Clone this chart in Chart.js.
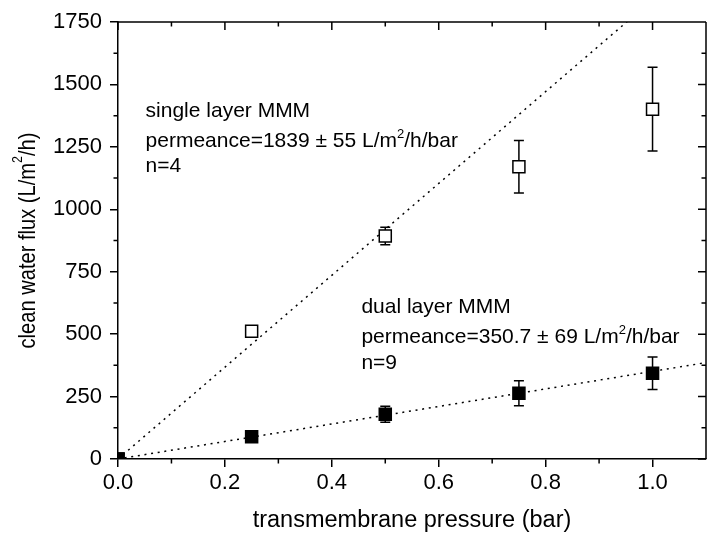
<!DOCTYPE html>
<html><head><meta charset="utf-8">
<script src="https://cdn.jsdelivr.net/npm/chart.js@4.4.0/dist/chart.umd.min.js"></script>
<style>
html,body{margin:0;padding:0;overflow:hidden;background:#fff;width:710px;height:537px}
#wrap{position:absolute;left:0;top:0;width:716px;height:537px}
</style>
</head><body><div id="wrap"><canvas id="c" width="716" height="537"></canvas></div>
<script>
// ---- data ----
const pressure   = [0, 0.25, 0.5, 0.75, 1.0];
const singleFlux = [0, 512, 893, 1170, 1401];
const singleErr  = [0, 18, 35, 105, 168];
const dualFlux   = [0, 89, 179, 263, 343];
const dualErr    = [0, 10, 32, 50, 65];
const fitX       = [0, 1.1];
const singleFit  = [0, 2023];
const dualFit    = [0, 386];
const xTickValues = [0, 0.2, 0.4, 0.6, 0.8, 1.0];
const xTickLabels = ['0.0', '0.2', '0.4', '0.6', '0.8', '1.0'];
const yTickValues = [0, 250, 500, 750, 1000, 1250, 1500, 1750];
const yTickLabels = ['0', '250', '500', '750', '1000', '1250', '1500', '1750'];
const xMinorValues = [0.1, 0.3, 0.5, 0.7, 0.9];
const yMinorValues = [125, 375, 625, 875, 1125, 1375, 1625];
const singleNote = ['single layer MMM', 'permeance=1839 ± 55 L/m²/h/bar', 'n=4'];
const dualNote   = ['dual layer MMM', 'permeance=350.7 ± 69 L/m²/h/bar', 'n=9'];
const xTitle = 'transmembrane pressure (bar)';
const yTitle = 'clean water flux (L/m²/h)';

const FONT = '"Liberation Sans", Arial, Helvetica, sans-serif';
const BLACK = '#000';

function pts(xs, ys) { return xs.map((x, i) => ({ x: x, y: ys[i] })); }

// rich text: '²' rendered as a raised small "2"
function richWidth(ctx, text, size) {
  const parts = text.split('²');
  let w = 0;
  parts.forEach((part, i) => {
    ctx.font = size + 'px ' + FONT; w += ctx.measureText(part).width;
    if (i < parts.length - 1) { ctx.font = Math.round(size * 0.62) + 'px ' + FONT; w += ctx.measureText('2').width; }
  });
  return w;
}
function drawRich(ctx, text, x0, y0, size) {
  const parts = text.split('²');
  let cx = x0;
  parts.forEach((part, i) => {
    ctx.font = size + 'px ' + FONT;
    ctx.fillText(part, cx, y0);
    cx += ctx.measureText(part).width;
    if (i < parts.length - 1) {
      ctx.font = Math.round(size * 0.62) + 'px ' + FONT;
      ctx.fillText('2', cx, y0 - size * 0.42);
      cx += ctx.measureText('2').width;
    }
  });
}

// frame + minor ticks + mirrored ticks
const framePlugin = {
  id: 'frame',
  afterDraw(chart) {
    const { ctx, chartArea: a, scales: { x, y } } = chart;
    ctx.save();
    ctx.strokeStyle = BLACK;
    ctx.lineWidth = 1.5;
    ctx.beginPath();
    ctx.moveTo(a.left, a.top); ctx.lineTo(a.right, a.top);
    ctx.moveTo(a.right, a.top); ctx.lineTo(a.right, a.bottom);
    const MAJ = 8, MIN = 4.5;
    xMinorValues.forEach(v => { const px = x.getPixelForValue(v);
      ctx.moveTo(px, a.bottom); ctx.lineTo(px, a.bottom + MIN);
      ctx.moveTo(px, a.top); ctx.lineTo(px, a.top + MIN); });
    xTickValues.forEach(v => { const px = x.getPixelForValue(v);
      ctx.moveTo(px, a.top); ctx.lineTo(px, a.top + MAJ); });
    yMinorValues.forEach(v => { const py = y.getPixelForValue(v);
      ctx.moveTo(a.left, py); ctx.lineTo(a.left - MIN, py);
      ctx.moveTo(a.right, py); ctx.lineTo(a.right - MIN, py); });
    yTickValues.forEach(v => { const py = y.getPixelForValue(v);
      ctx.moveTo(a.right, py); ctx.lineTo(a.right - MAJ, py); });
    ctx.stroke();
    ctx.restore();
  }
};

// y axis title (rotated, compressed along its length like the reference)
const yTitlePlugin = {
  id: 'ytitle',
  afterDraw(chart, args, opts) {
    const { ctx, chartArea: a } = chart;
    ctx.save();
    ctx.fillStyle = BLACK;
    ctx.textBaseline = 'middle';
    ctx.textAlign = 'left';
    const w = richWidth(ctx, yTitle, opts.size);
    const s = opts.length / w;
    ctx.translate(opts.x, (a.top + a.bottom) / 2);
    ctx.rotate(-Math.PI / 2);
    ctx.scale(s, 1);
    drawRich(ctx, yTitle, -w / 2, 0, opts.size);
    ctx.restore();
  }
};

// error bars drawn beneath markers
const errorBarPlugin = {
  id: 'errorbars',
  beforeDatasetsDraw(chart) {
    const { ctx, scales: { x, y } } = chart;
    ctx.save();
    ctx.strokeStyle = BLACK;
    ctx.lineWidth = 1.5;
    chart.data.datasets.forEach(ds => {
      if (!ds.errors) return;
      ds.data.forEach((p, i) => {
        const e = ds.errors[i];
        if (!e) return;
        const px = x.getPixelForValue(p.x);
        const top = y.getPixelForValue(p.y + e);
        const bot = y.getPixelForValue(p.y - e);
        const cap = 5;
        ctx.beginPath();
        ctx.moveTo(px, top); ctx.lineTo(px, bot);
        ctx.moveTo(px - cap, top); ctx.lineTo(px + cap, top);
        ctx.moveTo(px - cap, bot); ctx.lineTo(px + cap, bot);
        ctx.stroke();
      });
    });
    ctx.restore();
  }
};

const notePlugin = {
  id: 'notes',
  afterDatasetsDraw(chart, args, opts) {
    const { ctx, scales: { x, y } } = chart;
    ctx.save();
    ctx.fillStyle = BLACK;
    ctx.textBaseline = 'alphabetic';
    ctx.textAlign = 'left';
    opts.blocks.forEach(b => {
      const px = x.getPixelForValue(b.x);
      const py = y.getPixelForValue(b.y);
      b.lines.forEach((t, i) => drawRich(ctx, t, px, py + b.offsets[i], opts.size));
    });
    ctx.restore();
  }
};

new Chart(document.getElementById('c'), {
  type: 'scatter',
  data: {
    datasets: [
      { label: 'single fit', type: 'line', data: pts(fitX, singleFit), borderColor: BLACK,
        borderWidth: 1.5, borderDash: [2, 4.7], pointRadius: 0, fill: false, order: 3, clip: 0 },
      { label: 'dual fit', type: 'line', data: pts(fitX, dualFit), borderColor: BLACK,
        borderWidth: 1.5, borderDash: [2, 4.7], pointRadius: 0, fill: false, order: 3, clip: 0 },
      { label: 'single layer MMM', data: pts(pressure, singleFlux), errors: singleErr,
        pointStyle: 'rect', pointRadius: 8.5, backgroundColor: '#fff', borderColor: BLACK,
        borderWidth: 1.5, order: 1, clip: 0 },
      { label: 'dual layer MMM', data: pts(pressure, dualFlux), errors: dualErr,
        pointStyle: 'rect', pointRadius: 8.5, backgroundColor: BLACK, borderColor: BLACK,
        borderWidth: 1.5, order: 0, clip: 0 }
    ]
  },
  options: {
    responsive: false,
    animation: false,
    devicePixelRatio: 1,
    layout: { padding: { top: 22, right: 1.25, left: 0, bottom: 0 } },
    plugins: {
      legend: { display: false },
      tooltip: { enabled: false },
      ytitle: { size: 24, length: 216, x: 28 },
      notes: {
        size: 21,
        blocks: [
          { x: 0.0516, y: 1371, lines: singleNote, offsets: [0, 30, 55] },
          { x: 0.4553, y: 584, lines: dualNote, offsets: [0, 30, 56] }
        ]
      }
    },
    scales: {
      x: {
        type: 'linear', position: 'bottom', min: 0, max: 1.1,
        afterFit(s) { s.height = 78; },
        afterBuildTicks(s) { s.ticks = xTickValues.map(v => ({ value: v })); },
        ticks: {
          callback: (v) => { const i = xTickValues.findIndex(t => Math.abs(t - v) < 1e-9); return i >= 0 ? xTickLabels[i] : ''; },
          font: { family: FONT, size: 22 }, color: BLACK, padding: 3, maxRotation: 0, autoSkip: false, includeBounds: false
        },
        grid: { display: true, drawOnChartArea: false, drawTicks: true, tickLength: 8, color: BLACK, lineWidth: 1.5 },
        border: { display: true, color: BLACK, width: 1.5 },
        title: { display: true, text: xTitle, color: BLACK, font: { family: FONT, size: 23.5 }, padding: { top: 0, bottom: 2 } }
      },
      y: {
        type: 'linear', position: 'left', min: 0, max: 1750,
        afterFit(s) { s.width = 118; },
        afterBuildTicks(s) { s.ticks = yTickValues.map(v => ({ value: v })); },
        ticks: {
          callback: (v) => { const i = yTickValues.indexOf(v); return i >= 0 ? yTickLabels[i] : ''; },
          font: { family: FONT, size: 22 }, color: BLACK, padding: 8, autoSkip: false, includeBounds: false
        },
        grid: { display: true, drawOnChartArea: false, drawTicks: true, tickLength: 8, color: BLACK, lineWidth: 1.5 },
        border: { display: true, color: BLACK, width: 1.5 },
        title: { display: false, text: yTitle }
      }
    }
  },
  plugins: [framePlugin, errorBarPlugin, notePlugin, yTitlePlugin]
});
</script>
</body></html>
